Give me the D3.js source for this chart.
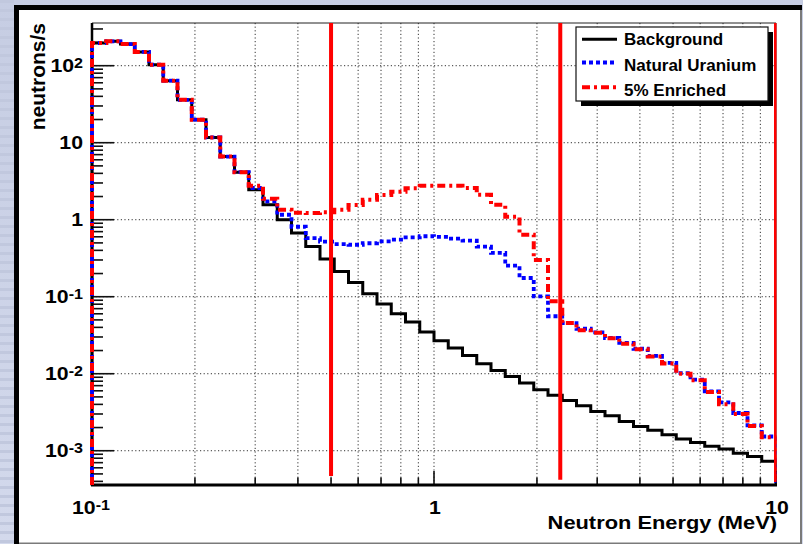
<!DOCTYPE html>
<html><head><meta charset="utf-8">
<script src="https://cdn.jsdelivr.net/npm/d3@7"></script>
<style>html,body{margin:0;padding:0;background:#c9d0e6;overflow:hidden}svg{display:block}</style>
</head><body><svg id="c" width="803" height="544"></svg>
<script>
// ---- data ----
const binsPerDecade = 24;
const binEdges = d3.range(49).map(i => Math.pow(10, -1 + i / binsPerDecade));
const background = [197,207,191,151,103,64,36,19.9,11.7,6.6,4.14,2.45,1.57,1.0,0.67,0.45,0.31,0.213,0.153,0.109,
  0.0804,0.0602,0.0469,0.0348,0.0268,0.0216,0.0173,0.0135,0.0110,0.00923,0.00757,0.00619,0.00526,0.00450,0.00384,
  0.00324,0.00285,0.00240,0.00207,0.00184,0.00161,0.00142,0.00128,0.00114,0.00105,0.00093,0.00084,0.00073];
const naturalUranium = [197,207,191,151,103,64,36,19.9,11.7,6.6,4.14,2.58,1.73,1.16,0.81,0.575,0.518,0.483,0.473,0.495,
  0.523,0.55,0.589,0.61,0.60,0.567,0.534,0.446,0.37,0.253,0.175,0.101,0.0558,0.0455,0.0384,
  0.0344,0.0291,0.0251,0.0211,0.0171,0.0138,0.0102,0.00836,0.00589,0.00424,0.00309,0.00213,0.00153];
const enriched = [197,207,191,151,103,64,36,19.9,11.7,6.6,4.14,2.77,1.87,1.35,1.23,1.22,1.25,1.35,1.55,1.82,
  2.10,2.30,2.57,2.77,2.77,2.77,2.58,2.11,1.57,1.09,0.64,0.30,0.0874,0.0455,0.0368,
  0.0340,0.0288,0.0245,0.0208,0.0168,0.0136,0.0100,0.0082,0.0058,0.0040,0.0030,0.0021,0.00150];
const seriesNames = ["Background", "Natural Uranium", "5% Enriched"];
const cutEnergies = [0.5, 2.34, 10];
const cutLowValues = [4.7e-4, 4.2e-4, 4.1e-4];
const xMajorTicks = [0.1, 1, 10];
const xTickLabels = [["10", "-1"], ["1", ""], ["10", ""]];
const yMajorTicks = [1e-3, 1e-2, 1e-1, 1, 10, 100];
const yTickLabels = [["10", "-3"], ["10", "-2"], ["10", "-1"], ["1", ""], ["10", ""], ["10", "2"]];
const xTitle = "Neutron Energy (MeV)";
const yTitle = "neutrons/s";

// ---- layout ----
const svg = d3.select("#c");
const W = 803, H = 544;
const L = 92, R = 776, T = 23, B = 485;
const FONT = "'Liberation Sans', Arial, Helvetica, sans-serif";
const SX = 1.15;

const x = d3.scaleLog().domain([0.1, 10]).range([L, R]);
const y = d3.scaleLog().domain([Math.pow(10, -3.445), Math.pow(10, 2.5545)]).range([B, T]);

// slide background
const defs = svg.append("defs");
const g1 = defs.append("linearGradient").attr("id", "bg").attr("x1", 0).attr("y1", 0).attr("x2", 0).attr("y2", 1);
g1.append("stop").attr("offset", "0%").attr("stop-color", "#c6cde3");
g1.append("stop").attr("offset", "100%").attr("stop-color", "#d3d9ec");
svg.append("rect").attr("width", W).attr("height", H).attr("fill", "url(#bg)");
svg.append("g").selectAll("rect").data(d3.range(0, H, 9)).join("rect")
  .attr("x", 0).attr("y", d => d).attr("width", 14).attr("height", 3).attr("fill", "#c1c8de");
defs.append("clipPath").attr("id", "plotclip").append("rect")
  .attr("x", L - 3).attr("y", T - 2).attr("width", R - L + 3.5).attr("height", B - T + 4);

// canvas
svg.append("rect").attr("x", 14).attr("y", 5).attr("width", 788).attr("height", 539).attr("fill", "#000");
svg.append("rect").attr("x", 19).attr("y", 10).attr("width", 783).attr("height", 534).attr("fill", "#7a7a7a");
svg.append("rect").attr("x", 19).attr("y", 10).attr("width", 781).attr("height", 532.5).attr("fill", "#fff");

// grid
const xMinor = x.ticks().filter(v => v > 0.1 * 1.001 && v < 10 * 0.999);
svg.append("g").selectAll("line").data(xMinor).join("line")
  .attr("x1", d => x(d)).attr("x2", d => x(d)).attr("y1", T).attr("y2", B)
  .attr("stroke", "#333").attr("stroke-width", 1).attr("stroke-dasharray", "1.2,2.4");
svg.append("g").selectAll("line").data(yMajorTicks).join("line")
  .attr("x1", L).attr("x2", R).attr("y1", d => y(d)).attr("y2", d => y(d))
  .attr("stroke", "#333").attr("stroke-width", 1).attr("stroke-dasharray", "1.2,2.4");

// frame
svg.append("line").attr("x1", L).attr("x2", R).attr("y1", T).attr("y2", T).attr("stroke", "#222").attr("stroke-width", 1);
svg.append("line").attr("x1", R).attr("x2", R).attr("y1", T).attr("y2", B).attr("stroke", "#222").attr("stroke-width", 1);

// axes
const yAll = y.ticks();
svg.append("g").selectAll("line").data(yAll).join("line")
  .attr("x1", L).attr("y1", d => y(d)).attr("y2", d => y(d))
  .attr("x2", d => L + (yMajorTicks.some(m => Math.abs(m - d) / m < 1e-6) ? 22 : 11))
  .attr("stroke", "#111").attr("stroke-width", 1.6);
const xAll = x.ticks();
svg.append("g").selectAll("line").data(xAll).join("line")
  .attr("x1", d => x(d)).attr("x2", d => x(d)).attr("y1", B)
  .attr("y2", d => B - (xMajorTicks.some(m => Math.abs(m - d) / m < 1e-6) ? 14 : 7.5))
  .attr("stroke", "#111").attr("stroke-width", 1.6);
svg.append("line").attr("x1", L).attr("x2", L).attr("y1", T).attr("y2", B + 1).attr("stroke", "#000").attr("stroke-width", 2.5);
svg.append("line").attr("x1", L - 1).attr("x2", R + 1).attr("y1", B).attr("y2", B).attr("stroke", "#000").attr("stroke-width", 2.8);

// tick labels
function labelText(g, parts, size, supSize) {
  const t = g.append("text").attr("font-family", FONT).attr("font-weight", "bold").attr("fill", "#000");
  t.append("tspan").attr("font-size", size).text(parts[0]);
  if (parts[1]) t.append("tspan").attr("font-size", supSize).attr("dy", -4.5).text(parts[1]);
  return t;
}
yMajorTicks.forEach((v, i) => {
  const g = svg.append("g").attr("transform", `translate(83,${y(v) + 6.6}) scale(${SX},1)`);
  labelText(g, yTickLabels[i], 18.5, 14).attr("text-anchor", "end");
});
xMajorTicks.forEach((v, i) => {
  const g = svg.append("g").attr("transform", `translate(${x(v) + (i === 0 ? -1 : 1)},514) scale(${SX},1)`);
  labelText(g, xTickLabels[i], 18.5, 14).attr("text-anchor", "middle");
});

// titles
svg.append("g").attr("transform", `translate(777,529) scale(${SX},1)`)
  .append("text").attr("text-anchor", "end").attr("font-family", FONT).attr("font-weight", "bold")
  .attr("font-size", 19).text(xTitle);
svg.append("text").attr("transform", "translate(45,23) rotate(-90)").attr("text-anchor", "end")
  .attr("font-family", FONT).attr("font-weight", "bold").attr("font-size", 21).text(yTitle);

// histograms
const styles = [
  { color: "#000", width: 3, dash: null },
  { color: "#0000ff", width: 3.8, dash: "4,3" },
  { color: "#ff0000", width: 4, dash: "8,4,3,4" }
];
const seriesData = [background, naturalUranium, enriched];
const line = d3.line();
const plotG = svg.append("g").attr("clip-path", "url(#plotclip)");
seriesData.forEach((vals, s) => {
  const pts = [[x(binEdges[0]), B]];
  vals.forEach((v, i) => { pts.push([x(binEdges[i]), y(v)], [x(binEdges[i + 1]), y(v)]); });
  pts.push([x(binEdges[vals.length]), B]);
  plotG.append("path").attr("d", line(pts)).attr("fill", "none")
    .attr("stroke", styles[s].color).attr("stroke-width", styles[s].width)
    .attr("stroke-dasharray", styles[s].dash).attr("stroke-linejoin", "miter");
});

// cut lines
plotG.append("g").selectAll("line").data(cutEnergies).join("line")
  .attr("x1", d => x(d)).attr("x2", d => x(d))
  .attr("y1", y.range()[1]).attr("y2", (d, i) => y(cutLowValues[i]))
  .attr("stroke", "#ff0000").attr("stroke-width", 4);

// legend
const lg = svg.append("g");
lg.append("rect").attr("x", 581).attr("y", 32).attr("width", 192).attr("height", 74).attr("fill", "#000");
lg.append("rect").attr("x", 576).attr("y", 27).attr("width", 192).attr("height", 74)
  .attr("fill", "#fff").attr("stroke", "#111").attr("stroke-width", 1.2);
const lineY = [39.3, 62.5, 87.3];
const textY = [45, 71, 95.5];
seriesNames.forEach((name, i) => {
  lg.append("line").attr("x1", 582).attr("x2", 617).attr("y1", lineY[i]).attr("y2", lineY[i])
    .attr("stroke", styles[i].color).attr("stroke-width", styles[i].width)
    .attr("stroke-dasharray", styles[i].dash);
  lg.append("text").attr("x", 624).attr("y", textY[i]).attr("font-family", FONT).attr("font-weight", "bold")
    .attr("font-size", 17).attr("fill", "#000").text(name);
});
</script></body></html>
